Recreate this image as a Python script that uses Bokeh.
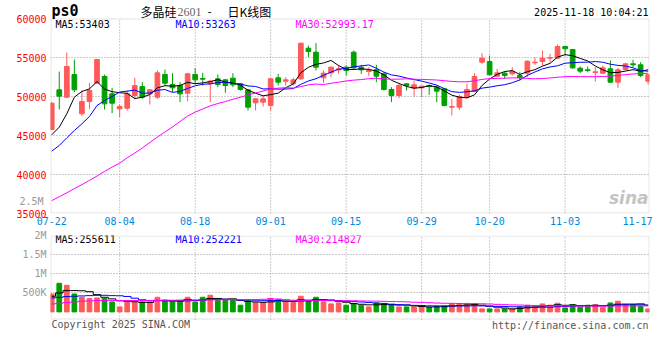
from bokeh.plotting import figure
from bokeh.layouts import column
from bokeh.models import (Range1d, FixedTicker, Label, ColumnDataSource, BoxAnnotation,
                          LinearAxis)
from bokeh.embed import file_html
from bokeh.resources import INLINE

# ---------------- data ----------------
dates = ["07-22", "07-23", "07-24", "07-25", "07-28", "07-29", "07-30", "07-31",
         "08-01", "08-04", "08-05", "08-06", "08-07", "08-08", "08-11", "08-12",
         "08-13", "08-14", "08-15", "08-18", "08-19", "08-20", "08-21", "08-22",
         "08-25", "08-26", "08-27", "08-28", "08-29",
         "09-01", "09-02", "09-03", "09-04", "09-05", "09-08", "09-09", "09-10",
         "09-11", "09-12", "09-15", "09-16", "09-17", "09-18", "09-19", "09-22",
         "09-23", "09-24", "09-25", "09-26", "09-29", "09-30",
         "10-09", "10-10", "10-13", "10-14", "10-15", "10-16", "10-17", "10-20",
         "10-21", "10-22", "10-23", "10-24", "10-27", "10-28", "10-29", "10-30",
         "10-31",
         "11-03", "11-04", "11-05", "11-06", "11-07", "11-10", "11-11", "11-12",
         "11-13", "11-14", "11-17", "11-18"]

opens = [45770, 50855, 49915, 52820, 47780, 49360, 51710, 52565, 50340, 48420,
         48505, 50130, 51280, 50340, 49915, 52820, 51540, 51410, 50425, 52820,
         52310, 51625, 52265, 52135, 52350, 51625, 50855, 49190, 49275, 48845,
         52395, 51965, 51625, 52265, 56195, 55685, 52395, 53035, 53420, 53760,
         55685, 53760, 53205, 53420, 52905, 50900, 50130, 51625, 51070, 51110,
         51410, 51195, 50985, 48630, 48630, 49915, 50640, 54400, 54490, 52605,
         52990, 52905, 52695, 52990, 54315, 54490, 54915, 54915, 56410, 56025,
         53635, 53420, 53075, 52990, 53545, 51840, 53460, 54190, 54060, 51965]
highs = [49300, 53205, 55640, 54745, 50770, 51750, 54800, 52820, 51110, 48975,
         50770, 52395, 51840, 50900, 53335, 53460, 52990, 51840, 53035, 53635,
         53035, 52135, 52820, 52265, 52990, 51710, 50985, 49785, 50130, 52350,
         52905, 52480, 52395, 56840, 56540, 56840, 53335, 53845, 54060, 53975,
         55900, 54060, 53760, 54060, 53120, 51195, 51625, 51710, 52050, 51410,
         51540, 51410, 51110, 49700, 50215, 51625, 52990, 55555, 55255, 53545,
         53205, 53760, 53120, 54615, 55045, 55900, 55470, 56665, 56450, 56110,
         53845, 53845, 53760, 53975, 54615, 53675, 54315, 54700, 54400, 52905]
lows = [45700, 48335, 49800, 50555, 47480, 48420, 51650, 48335, 47865, 47350,
        48205, 49700, 49700, 48975, 49700, 51410, 50555, 49275, 49400, 51625,
        51410, 49275, 51195, 50470, 51195, 50770, 48205, 48205, 48720, 48205,
        51410, 51410, 51410, 52135, 55045, 53335, 51710, 52480, 52905, 52695,
        53420, 52905, 52605, 51840, 50770, 49275, 49785, 50770, 50000, 49915,
        50215, 49275, 48720, 47565, 48290, 49700, 50555, 54190, 52695, 52480,
        52265, 52695, 52050, 52480, 54060, 53975, 54400, 54830, 55255, 53545,
        52990, 53120, 51925, 52905, 51710, 51110, 53335, 53760, 52480, 51540]
closes = [49145, 50045, 53845, 50855, 49360, 50770, 54745, 49060, 49145, 48720,
          50340, 51410, 49915, 50855, 53035, 51710, 51110, 50340, 52905, 52135,
          52220, 51965, 51540, 51410, 51495, 50900, 48630, 49700, 49700, 52265,
          51840, 52135, 52135, 56840, 55770, 53760, 52990, 53760, 53545, 53335,
          53675, 53420, 53335, 52605, 50900, 50130, 51410, 51410, 51495, 51325,
          51280, 50685, 48845, 48720, 50000, 50900, 52565, 54915, 52780, 53035,
          52695, 53205, 52395, 54530, 54400, 54915, 55000, 56410, 56110, 53675,
          53250, 53335, 53165, 53675, 51840, 53420, 54190, 54060, 52695, 52780]
volumes = [469000, 748000, 696000, 469000, 383000, 349000, 365000, 349000, 261000, 130000,
           297000, 297000, 261000, 261000, 383000, 305000, 261000, 297000, 383000, 261000,
           383000, 436000, 297000, 297000, 297000, 175000, 297000, 245000, 245000, 349000,
           323000, 261000, 245000, 409000, 297000, 383000, 261000, 209000, 235000, 175000,
           209000, 175000, 130000, 235000, 209000, 193000, 130000, 130000, 130000, 130000,
           123000, 149000, 149000, 209000, 209000, 193000, 193000, 78000, 78000, 78000,
           78000, 78000, 130000, 175000, 149000, 209000, 175000, 227000, 104000, 193000,
           123000, 175000, 193000, 123000, 235000, 279000, 193000, 193000, 149000, 78000]

# moving-average values before a full window exists
ma5_head = [45085, 46070, 47780, 49915]
ma10_head = [42990, 43720, 44700, 45640, 46495, 47435, 48845, 49490, 50000]
ma30_head = [36650, 37150, 37650, 38200, 38700, 39250, 39800, 40400, 40950, 41450,
             42150, 42750, 43400, 44100, 44800, 45450, 46100, 46800, 47500, 48000,
             48400, 48800, 49100, 49350, 49650, 49900, 50200, 50450, 50700]
vma5_head = [409000, 496000, 557000, 557000]
vma10_head = [365000, 383000, 400000, 409000, 418000, 426000, 435000, 435000, 426000]
vma30_head = [209000, 226000, 244000, 261000, 279000, 287000, 297000, 297000, 300000, 300000,
              297000, 297000, 297000, 300000, 300000, 305000, 305000, 305000, 310000, 310000,
              310000, 315000, 315000, 315000, 320000, 320000, 320000, 325000, 330000]

price_ticks = [35000, 40000, 45000, 50000, 55000, 60000]
price_tick_labels = ["35000", "40000", "45000", "50000", "55000", "60000"]
vol_ticks = [500000, 1000000, 1500000, 2000000]
vol_tick_labels = ["500K", "1M", "1.5M", "2M"]
vol_overflow_tick = 2500000
vol_overflow_label = "2.5M"
date_tick_labels = ["07-22", "08-04", "08-18", "09-01", "09-15", "09-29", "10-20", "11-03", "11-17"]

price_ma_texts = ["MA5:53403", "MA10:53263", "MA30:52993.17"]
vol_ma_texts = ["MA5:255611", "MA10:252221", "MA30:214827"]
ma_colors = ["#000000", "#0000ff", "#ff00ff"]


def moving_average(values, n, head):
    out = list(head)
    for i in range(len(head), len(values)):
        out.append(sum(values[i - n + 1:i + 1]) / n)
    return out


idx = list(range(len(dates)))
UP, DOWN = "#ff5a5a", "#00a000"
colors = [UP if c >= o else DOWN for o, c in zip(opens, closes)]

src = ColumnDataSource(dict(
    x=idx, o=opens, h=highs, l=lows, c=closes,
    top=[max(o, c) for o, c in zip(opens, closes)],
    bottom=[min(o, c) for o, c in zip(opens, closes)],
    color=colors, vol=volumes,
    ma5=moving_average(closes, 5, ma5_head),
    ma10=moving_average(closes, 10, ma10_head),
    ma30=moving_average(closes, 30, ma30_head),
    vma5=moving_average(volumes, 5, vma5_head),
    vma10=moving_average(volumes, 10, vma10_head),
    vma30=moving_average(volumes, 30, vma30_head),
))

# ---------------- layout constants ----------------
MONO = "DejaVu Sans Mono"
PX_PER_DAY = 7.55
FRAME_W = 599
LEFT = 50
RIGHT = 11
BAR_W = 0.62
GRID_COLOR = "#999999"
FRAME_COLOR = "#999999"
x_start = -0.16
x_end = x_start + FRAME_W / PX_PER_DAY
xr = Range1d(x_start, x_end)
half_px_x = 0.5 / PX_PER_DAY

tick_idx = [dates.index(d) for d in date_tick_labels]
grid_idx = tick_idx[1:-1]
date_overrides = {i: lab for i, lab in zip(tick_idx, date_tick_labels)}
date_overrides[tick_idx[-1]] = date_tick_labels[-1] + "\u00a0"


def style_axis(ax):
    ax.axis_line_color = None
    ax.major_tick_line_color = None
    ax.minor_tick_line_color = None
    ax.major_tick_out = 0
    ax.major_tick_in = 0
    ax.major_label_text_font = MONO
    ax.major_label_text_font_size = "10px"
    ax.major_label_text_font_style = "normal"


def style_common(p):
    p.outline_line_color = None
    p.background_fill_color = "white"
    p.border_fill_color = "white"
    style_axis(p.xaxis[0])
    style_axis(p.yaxis[0])
    p.yaxis[0].major_label_standoff = 4
    p.xgrid.visible = False
    p.ygrid.grid_line_color = GRID_COLOR
    p.ygrid.grid_line_dash = "1 2"


def add_text(p, text, x, y, color="#000000", size="10px", font=MONO, align="left",
             style="normal"):
    p.add_layout(Label(x=x, y=y, x_units="canvas", y_units="canvas", text=text,
                       text_color=color, text_font_size=size, text_font=font,
                       text_align=align, text_baseline="middle", text_font_style=style))


def add_panel_frame(p, bottom, top, px_y):
    p.add_layout(BoxAnnotation(left=x_start + half_px_x, right=x_end - half_px_x,
                               bottom=bottom + 0.5 * px_y, top=top - 0.5 * px_y,
                               fill_color=None, fill_alpha=0,
                               line_color=FRAME_COLOR, line_width=1))
    p.segment(x0=grid_idx, y0=[bottom] * len(grid_idx), x1=grid_idx, y1=[top] * len(grid_idx),
              line_color=GRID_COLOR, line_width=1, line_dash="1 2")


# ---------------- main (price) panel ----------------
PRICE_PANEL_H = 195
HEADER_H = 18
price_per_px = (price_ticks[-1] - price_ticks[0]) / PRICE_PANEL_H
main = figure(title=None, frame_width=FRAME_W, frame_height=PRICE_PANEL_H + HEADER_H,
              x_range=xr,
              y_range=Range1d(price_ticks[0], price_ticks[-1] + HEADER_H * price_per_px),
              output_backend="svg", toolbar_location=None,
              min_border_left=LEFT, min_border_right=RIGHT, min_border_top=0,
              min_border_bottom=15)
style_common(main)
main.yaxis.ticker = FixedTicker(ticks=price_ticks)
main.yaxis.major_label_overrides = {t: s for t, s in zip(price_ticks, price_tick_labels)}
main.yaxis.major_label_text_color = "#ff0000"
main.ygrid.ticker = FixedTicker(ticks=price_ticks[1:-1])
main.xaxis.ticker = FixedTicker(ticks=tick_idx)
main.xaxis.major_label_overrides = date_overrides
main.xaxis.major_label_text_color = "#0088dd"
main.xaxis.major_label_standoff = 2
add_panel_frame(main, price_ticks[0], price_ticks[-1], price_per_px)

# volume-scale label that Sina draws spilling into the price panel's left margin
OVERFLOW_Y = 201            # canvas row of the spilled "2.5M" label
overflow_per_px = 500000 / 30
main.extra_y_ranges = {"vol_overflow": Range1d(
    vol_overflow_tick - (PRICE_PANEL_H + HEADER_H - OVERFLOW_Y) * overflow_per_px,
    vol_overflow_tick + OVERFLOW_Y * overflow_per_px)}
ov_axis = LinearAxis(y_range_name="vol_overflow",
                     ticker=FixedTicker(ticks=[vol_overflow_tick]),
                     major_label_overrides={vol_overflow_tick: vol_overflow_label})
style_axis(ov_axis)
ov_axis.major_label_standoff = -30   # pull it back into the price-label column
ov_axis.major_label_text_color = "#999999"
main.add_layout(ov_axis, "left")

main.segment(x0="x", y0="l", x1="x", y1="h", line_color="color", line_width=1, source=src)
main.vbar(x="x", width=BAR_W, top="top", bottom="bottom", fill_color="color",
          line_color="color", line_width=1, source=src)
for col, c in zip(["ma5", "ma10", "ma30"], ma_colors):
    main.line("x", col, line_color=c, line_width=1, source=src)

add_text(main, "ps0", 51, 10.5, size="15px", style="bold")
add_text(main, "多晶硅", 140, 10.5, size="12px", font="Noto Sans CJK SC")
add_text(main, "2601", 177, 11, color="#666666", size="12px", font="Liberation Serif")
add_text(main, "-", 207, 10.5, size="12px", font="Noto Sans CJK SC")
add_text(main, "日K线图", 227, 10.5, size="12px", font="Noto Sans CJK SC")
add_text(main, "2025-11-18 10:04:21", 648, 11.5, align="right")
for t, xpos, c in zip(price_ma_texts, [55, 175, 295], ma_colors):
    add_text(main, t, xpos, 23.7, color=c)
add_text(main, "sina", 648, 197, color="#c4c4c4", size="17px", font="DejaVu Sans",
         align="right", style="bold italic")

# ---------------- volume panel ----------------
VOL_PANEL_H = 84
BAR_BASE_PX = 7.6
FOOTER_H = 16
vol_top = vol_ticks[-1]
vol_per_px = vol_top / (VOL_PANEL_H - BAR_BASE_PX)
vol_panel_bottom = -BAR_BASE_PX * vol_per_px
vol = figure(title=None, frame_width=FRAME_W, frame_height=VOL_PANEL_H + FOOTER_H, x_range=xr,
             y_range=Range1d(vol_panel_bottom - FOOTER_H * vol_per_px, vol_top),
             output_backend="svg", toolbar_location=None,
             min_border_left=LEFT, min_border_right=RIGHT, min_border_top=6, min_border_bottom=0)
style_common(vol)
vol.xaxis.visible = False
vol.yaxis.ticker = FixedTicker(ticks=vol_ticks)
vol.yaxis.major_label_overrides = {t: s for t, s in zip(vol_ticks, vol_tick_labels)}
vol.yaxis.major_label_text_color = "#999999"
vol.ygrid.ticker = FixedTicker(ticks=vol_ticks[:-1])
add_panel_frame(vol, vol_panel_bottom, vol_top, vol_per_px)

vol.vbar(x="x", width=BAR_W, top="vol", bottom=0, fill_color="color",
         line_color="color", line_width=1, source=src)
for col, c in zip(["vma5", "vma10", "vma30"], ma_colors):
    vol.step("x", col, line_color=c, line_width=1, mode="center", source=src)

for t, xpos, c in zip(vol_ma_texts, [55, 175, 295], ma_colors):
    add_text(vol, t, xpos, 10.3, color=c)
add_text(vol, "Copyright 2025 SINA.COM", 51, 95, color="#555555")
add_text(vol, "http://finance.sina.com.cn", 648, 96, color="#555555", align="right")

layout = column(main, vol, spacing=0)
open("out.html", "w").write(file_html(layout, INLINE))
